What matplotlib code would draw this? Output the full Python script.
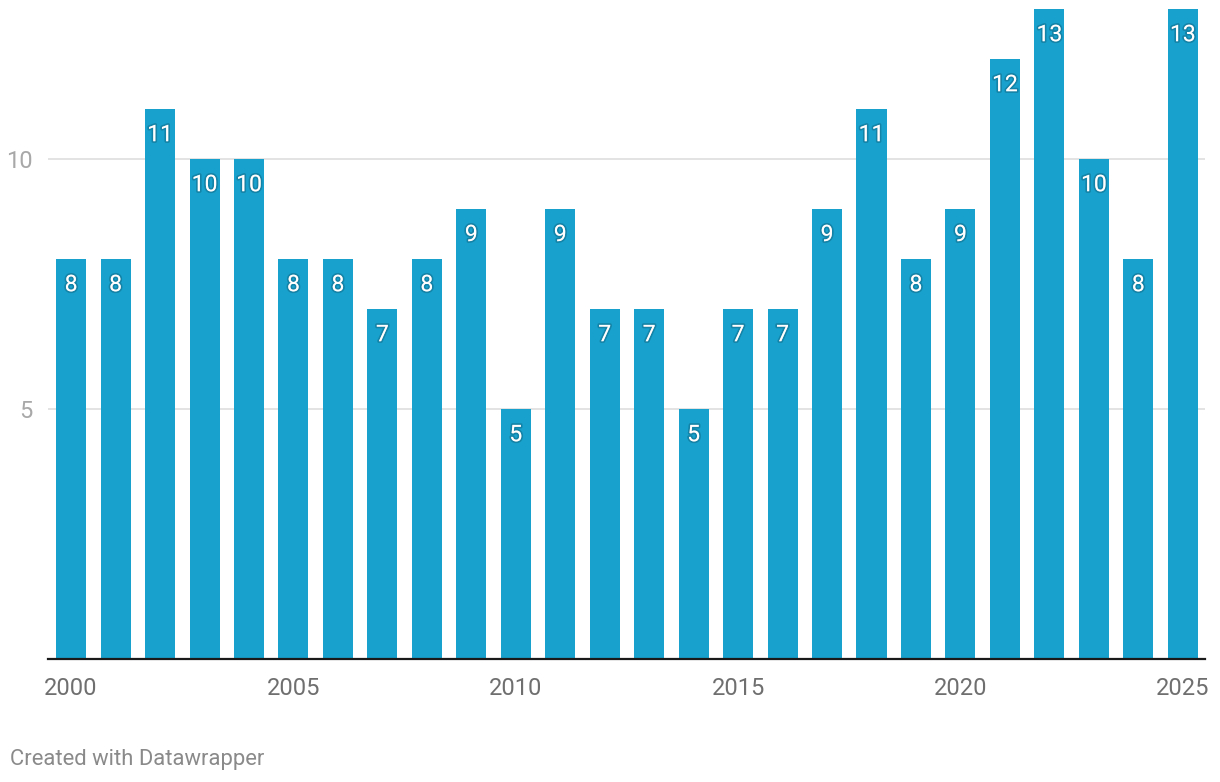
import matplotlib.pyplot as plt
import matplotlib.patheffects as pe

years = list(range(2000, 2026))
counts = [8, 8, 11, 10, 10, 8, 8, 7, 8, 9, 5, 9, 7, 7, 5, 7, 7, 9, 11, 8, 9, 12, 13, 10, 8, 13]
xticks = [2000, 2005, 2010, 2015, 2020, 2025]
yticks = [5, 10]

plt.rcParams['font.family'] = ['Roboto', 'DejaVu Sans']

W, H = 1220, 782
fig = plt.figure(figsize=(W / 100, H / 100), dpi=100)
ax = fig.add_axes([48 / W, (H - 659) / H, (1205 - 48) / W, (659 - 9) / H])

bar_color = '#18a1cd'
ax.bar(years, counts, width=0.675, color=bar_color, zorder=2)

ax.set_xlim(1999.48, 2025.5)
ax.set_ylim(0, 13)

for y in yticks:
    ax.axhline(y, color='#e1e1e1', lw=1.3, zorder=1)
ax.axhline(0, color='#1a1a1a', lw=1.6, zorder=3, clip_on=False)

for s in ax.spines.values():
    s.set_visible(False)

ax.set_yticks(yticks)
ax.set_yticklabels([str(v) for v in yticks])
ax.tick_params(axis='y', length=0, pad=11, labelsize=17, labelcolor='#a8a8a8')
ax.set_xticks(xticks)
ax.set_xticklabels([str(v) for v in xticks])
ax.tick_params(axis='x', length=0, pad=13, labelsize=17, labelcolor='#6f6f6f')

shadow = [pe.withStroke(linewidth=2.5, foreground=(0, 0, 0, 0.18))]
for x, v in zip(years, counts):
    ax.annotate(str(v), (x, v), xytext=(0, -18.5), textcoords='offset points',
                ha='center', va='center', color='white', fontsize=16.5,
                path_effects=shadow, zorder=4)

fig.text(10 / W, 1 - 759 / H, 'Created with Datawrapper', fontsize=15.8,
         color='#8a8a8a', ha='left', va='center')

fig.savefig('out.png', dpi=100)
